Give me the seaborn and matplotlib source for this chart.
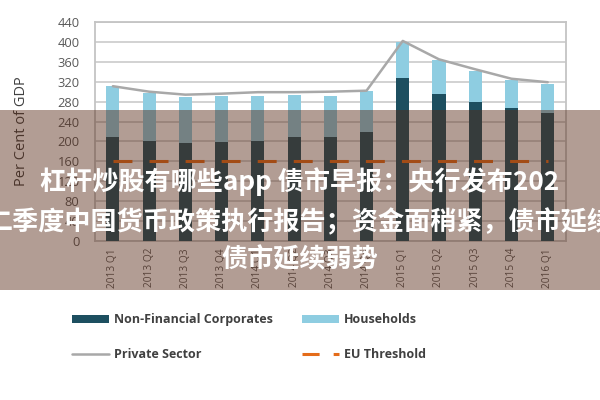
import numpy as np
import pandas as pd
import matplotlib
matplotlib.use("Agg")
import matplotlib.pyplot as plt
import seaborn as sns
from matplotlib.patches import Patch, Rectangle
from matplotlib.lines import Line2D

quarters = ["2013 Q1", "2013 Q2", "2013 Q3", "2013 Q4",
            "2014 Q1", "2014 Q2", "2014 Q3", "2014 Q4",
            "2015 Q1", "2015 Q2", "2015 Q3", "2015 Q4", "2016 Q1"]
non_financial = [209, 201, 196, 199, 201, 208, 209, 218, 327, 296, 279, 267, 257]
households = [102, 97, 93, 93, 91, 86, 83, 84, 73, 67, 63, 56, 58]
private_sector = [311, 300, 294, 296, 299, 299, 300, 302, 402, 365, 345, 326, 319]
eu_threshold = [160, 160, 160, 160, 160, 160, 160, 160, 160, 160, 160, 160, 160]
yticks = [0, 40, 80, 120, 160, 200, 240, 280, 320, 360, 400, 440]

overlay_lines = ["杠杆炒股有哪些app 债市早报：央行发布202",
                 "二季度中国货币政策执行报告；资金面稍紧，债市延续",
                 "债市延续弱势"]

sns.set_theme(style="white")
plt.rcParams["font.family"] = ["Open Sans", "DejaVu Sans"]

dark = "#1d4f60"
light = "#8ecde1"
grey_line = "#a8a8a8"
orange = "#e46c1a"

df = pd.DataFrame({"quarter": quarters,
                   "nfc": non_financial,
                   "hh": households})
df["total"] = df["nfc"] + df["hh"]

fig = plt.figure(figsize=(6, 4), dpi=100)
ax = fig.add_axes([0.158, 0.3975, 0.785, 0.5475])

sns.barplot(data=df, x="quarter", y="total", order=quarters, color=light,
            saturation=1, width=0.36, ax=ax, zorder=2, linewidth=0)
sns.barplot(data=df, x="quarter", y="nfc", order=quarters, color=dark,
            saturation=1, width=0.36, ax=ax, zorder=3, linewidth=0)

xpos = np.arange(len(quarters))
ax.plot(xpos, private_sector, color=grey_line, lw=1.8, zorder=4,
        solid_joinstyle="round")
ax.plot(xpos, eu_threshold, color=orange, lw=2.2, zorder=5,
        dashes=(6.2, 5.6), dash_capstyle="butt")

ax.set_xlim(-0.5, len(quarters) - 0.5)
ax.set_ylim(0, 440)
ax.set_yticks(yticks)
ax.set_yticklabels([str(v) for v in yticks], fontsize=9.3, color="#595959")
ax.set_xticks(xpos)
ax.set_xticklabels(quarters, rotation=90, fontsize=7.3, color="#595959")
ax.tick_params(axis="y", length=0, pad=11)
ax.tick_params(axis="x", length=0, pad=5)
ax.set_xlabel("")
ax.set_ylabel("Per Cent of GDP", fontsize=10.5, color="#404040")
ax.yaxis.set_label_coords(-0.14, 0.5)
ax.grid(axis="y", color="#cfcfcf", linewidth=1.3, zorder=0)
ax.set_axisbelow(True)
for s in ax.spines.values():
    s.set_visible(True)
    s.set_color("#c4c4c4")
    s.set_linewidth(1.3)

handles = [Patch(facecolor=dark, edgecolor="none"),
           Line2D([], [], color=grey_line, lw=1.8),
           Patch(facecolor=light, edgecolor="none"),
           Line2D([], [], color=orange, lw=2.2, dashes=(5.6, 4.6),
                  dash_capstyle="butt")]
labels = ["Non-Financial Corporates", "Private Sector",
          "Households", "EU Threshold"]
leg = fig.legend(handles, labels, ncol=2, loc="center",
                 bbox_to_anchor=(0.415, 0.157), frameon=False,
                 prop={"family": "Open Sans", "weight": "bold", "size": 9},
                 handlelength=2.95, handleheight=0.6, handletextpad=0.45,
                 columnspacing=2.3, labelspacing=1.75)
for t in leg.get_texts():
    t.set_color("#404040")

fig.add_artist(Rectangle((0, 1 - 290 / 400), 1, 180 / 400,
                         transform=fig.transFigure, facecolor="#552612",
                         alpha=0.45, edgecolor="none", zorder=10))
for txt, yc in zip(overlay_lines, [0.545, 0.4425, 0.35]):
    fig.text(0.5, yc, txt, ha="center", va="center", color="white",
             fontsize=18.8, fontweight="bold",
             family=["Noto Sans CJK SC", "DejaVu Sans"], zorder=11)

fig.savefig("out.png", dpi=100)
